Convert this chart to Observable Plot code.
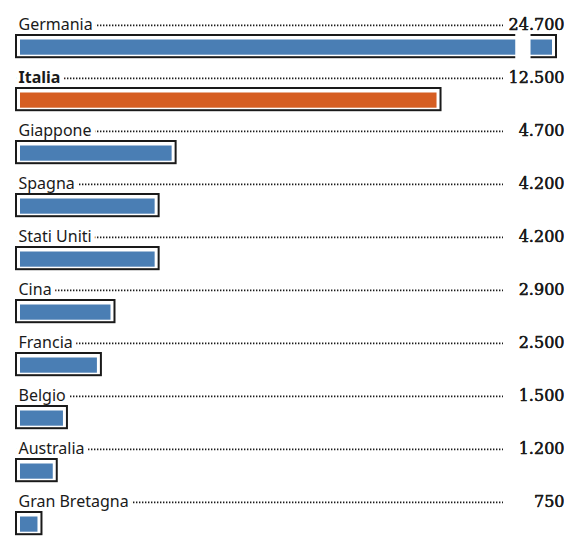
<!DOCTYPE html>
<html>
<head>
<meta charset="utf-8">
<script src="https://cdn.jsdelivr.net/npm/d3@7"></script>
<script src="https://cdn.jsdelivr.net/npm/@observablehq/plot@0.6"></script>
<style>
  html, body { margin: 0; padding: 0; background: #fff; }
  #chart svg { display: block; }
</style>
</head>
<body>
<div id="chart"></div>
<script>
const countries = ["Germania", "Italia", "Giappone", "Spagna", "Stati Uniti", "Cina", "Francia", "Belgio", "Australia", "Gran Bretagna"];
const values = [24700, 12500, 4700, 4200, 4200, 2900, 2500, 1500, 1200, 750];
const valueLabels = ["24.700", "12.500", "4.700", "4.200", "4.200", "2.900", "2.500", "1.500", "1.200", "750"];
const highlight = "Italia";
const axisMax = 15900;           // bars longer than this are drawn broken
const axisBreak = [14700, 15150]; // white gap marking the broken bar

const data = countries.map((c, i) => ({country: c, value: values[i], label: valueLabels[i]}));
const broken = data.filter(d => d.value > axisMax);

const blue = "#4a7eb4";
const orange = "#d65e22";
const ink = "#1a1a1a";
const labelFont = "'Noto Sans', 'Open Sans', sans-serif";
const valueFont = "'DejaVu Serif', 'Liberation Serif', serif";

const bandStep = 53.8;
const rowTop = 8;

const chart = Plot.plot({
  width: 565,
  height: 539,
  marginLeft: 16,
  marginRight: 9,
  marginTop: 0,
  marginBottom: 0,
  x: {domain: [0, axisMax], clamp: true, axis: null},
  y: {domain: countries, range: [rowTop, rowTop + bandStep * countries.length], paddingInner: 0, paddingOuter: 0, axis: null},
  style: {background: "white"},
  marks: [
    // dotted leaders
    Plot.ruleY(data, {y: "country", dy: -13.6, insetRight: 53, stroke: "#1a1a1a", strokeWidth: 1.6, strokeDasharray: "1.4 1.6"}),
    // country labels
    Plot.text(data.filter(d => d.country !== highlight), {
      y: "country", text: "country", frameAnchor: "left", dx: 2, dy: -8.9,
      textAnchor: "start", lineAnchor: "bottom", fontSize: 16, fontFamily: labelFont,
      fill: ink, stroke: "white", strokeWidth: 9, paintOrder: "stroke"
    }),
    Plot.text(data.filter(d => d.country === highlight), {
      y: "country", text: "country", frameAnchor: "left", dx: 2, dy: -8.9,
      textAnchor: "start", lineAnchor: "bottom", fontSize: 16, fontWeight: "bold", fontFamily: labelFont,
      fill: ink, stroke: "white", strokeWidth: 9, paintOrder: "stroke"
    }),
    // values (white halo, then slightly heavier glyphs)
    Plot.text(data, {
      y: "country", text: "label", frameAnchor: "right", dx: 8, dy: -8.9,
      textAnchor: "end", lineAnchor: "bottom", fontSize: 16, fontFamily: valueFont,
      fill: ink, stroke: "white", strokeWidth: 6, paintOrder: "stroke"
    }),
    Plot.text(data, {
      y: "country", text: "label", frameAnchor: "right", dx: 8, dy: -8.9,
      textAnchor: "end", lineAnchor: "bottom", fontSize: 16, fontFamily: valueFont,
      fill: ink, stroke: ink, strokeWidth: 0.35
    }),
    // outline boxes
    Plot.barX(data, {y: "country", x1: 0, x2: "value", fill: "white", stroke: ink, strokeWidth: 2, insetTop: 23, insetBottom: bandStep - 46}),
    // coloured bars
    Plot.barX(data, {y: "country", x1: 0, x2: "value", fill: d => d.country === highlight ? orange : blue,
      insetTop: 27.5, insetBottom: bandStep - 43.5, insetLeft: 4, insetRight: 4}),
    // break gap for the bar that runs off the scale
    Plot.barX(broken, {y: "country", x1: () => axisBreak[0], x2: () => axisBreak[1], fill: "white", insetTop: 20, insetBottom: bandStep - 49})
  ]
});

document.getElementById("chart").appendChild(chart);
</script>
</body>
</html>
